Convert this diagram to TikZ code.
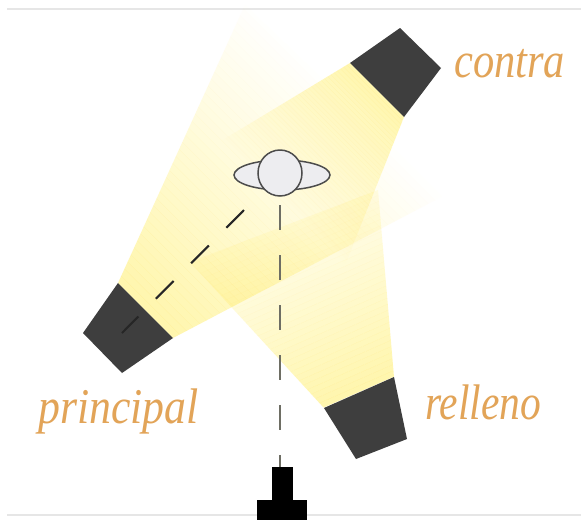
\documentclass[tikz,border=0pt]{standalone}
\usepackage{fontspec}
\setmainfont{Liberation Serif}
\definecolor{beamy}{HTML}{FFF6AE}
\definecolor{lampc}{HTML}{3E3E3E}
\definecolor{labelc}{HTML}{E2A458}
\definecolor{railc}{HTML}{E6E6E6}
\definecolor{dashc}{HTML}{6E6E64}
\definecolor{subjc}{HTML}{EDEDF0}
\tikzset{
  lamp/.style={fill=lampc,draw=none},
  rail/.style={draw=railc,line width=1.6pt},
  sight/.style={draw=dashc,line width=2.1pt,dash pattern=on 25pt off 25pt},
  lbl/.style={text=labelc,font=\fontsize{50}{50}\selectfont\itshape,inner sep=0pt,anchor=base west},
  subj/.style={fill=subjc,draw=black!70,line width=1.5pt},
}
% #1 polygon, #2 origin, #3 angle, #4 fade length (number)
\newcommand{\lightbeam}[4]{%
  \begin{scope}
    \clip #1;
    \begin{scope}[shift={#2},rotate=#3,blend mode=multiply]
      \foreach \k in {1,...,40}{
        \pgfmathsetmacro{\tint}{100*(1-(\k-1)/40)}
        \fill[beamy!\tint!white] ({#4*(\k-1)/40*1pt},-500pt) rectangle ({#4*\k/40*1pt},500pt);
      }
    \end{scope}
  \end{scope}}
\begin{document}
\begin{tikzpicture}[x=1pt,y=-1pt]
\useasboundingbox[fill=white] (0,0) rectangle (581,520);
\draw[rail] (7,9) -- (581,9);
\draw[rail] (7,515) -- (581,515);
\lightbeam{(118,283)--(173,338)--(445,195)--(245,5)--cycle}{(145,310)}{45}{290}
\lightbeam{(350,63)--(404,117)--(335,290)--(165,175)--cycle}{(377,90)}{225}{145}
\lightbeam{(324,408)--(394,377)--(378,190)--(190,262)--cycle}{(359,392)}{113.7}{230}
% lamps
\fill[lamp] (400,28)--(441,68)--(404,117)--(350,63)--cycle;
\fill[lamp] (118,283)--(173,338)--(122,373)--(83,333)--cycle;
\fill[lamp] (324,408)--(394,377)--(407,439)--(356,459)--cycle;
% camera
\fill[black] (272,467) rectangle (293,500);
\fill[black] (257,500) rectangle (307,520);
% named ends
\coordinate (camtop) at (280,467);
\coordinate (subjlow) at (280,205);
\coordinate (subjdiag) at (244,210);
\coordinate (lampmid) at (122,333);
\draw[sight] (subjlow) -- (camtop);
\draw[sight,draw=black!85] (subjdiag) -- (lampmid);
% subject
\draw[subj] (282,175) ellipse (48pt and 15pt);
\draw[subj] (280,173) ellipse (22pt and 23pt);
% labels
\node[lbl] (contra) at (454,77) {\scalebox{.85}[1]{contra}};
\node[lbl] (principal) at (38,423) {\scalebox{.875}[1]{principal}};
\node[lbl] (relleno) at (425,419) {\scalebox{.83}[1]{relleno}};
\end{tikzpicture}
\end{document}
